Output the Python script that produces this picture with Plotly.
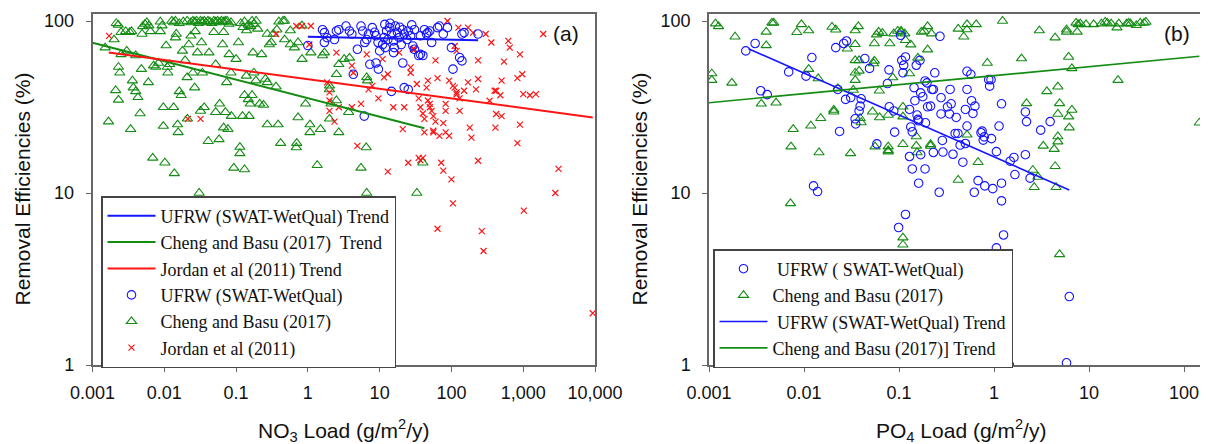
import plotly.graph_objects as go

# ---------------- Panel (a): NO3 ----------------
no3_cb_x = [0.00214, 0.00228, 0.00538, 0.00572, 0.00609, 0.0088, 0.0127, 0.0135, 0.0143, 0.0162,
            0.0184, 0.0208, 0.0235, 0.025, 0.0265, 0.0282, 0.030, 0.0319, 0.0338, 0.036,
            0.0382, 0.0406, 0.0432, 0.046, 0.049, 0.052, 0.0553, 0.0588, 0.0625, 0.0665,
            0.0707, 0.075, 0.080, 0.085, 0.116, 0.131, 0.148, 0.167, 0.177, 0.395,
            0.474, 0.826, 0.19, 0.272, 0.33, 0.37, 0.45, 0.57, 0.125, 0.14,
            0.16, 0.2, 0.0015, 0.00167, 0.002, 0.0021, 0.0023, 0.0023, 0.0024, 0.0025,
            0.0025, 0.0029, 0.003, 0.0033, 0.0034, 0.0035, 0.0036, 0.0037, 0.004, 0.004,
            0.0043, 0.0046, 0.0048, 0.0049, 0.005, 0.006, 0.0064, 0.0069, 0.0071, 0.0076,
            0.0083, 0.0088, 0.0093, 0.0097, 0.0097, 0.0102, 0.0106, 0.011, 0.0112, 0.0119,
            0.0135, 0.0138, 0.0143, 0.0147, 0.0153, 0.0156, 0.0162, 0.0172, 0.0179, 0.0195,
            0.0208, 0.021, 0.022, 0.0235, 0.025, 0.0265, 0.027, 0.029, 0.0306, 0.032,
            0.033, 0.034, 0.036, 0.041, 0.042, 0.049, 0.052, 0.052, 0.059, 0.058,
            0.065, 0.067, 0.071, 0.074, 0.067, 0.077, 0.071, 0.08, 0.085, 0.086,
            0.093, 0.131, 0.1, 0.108, 0.113, 0.113, 0.123, 0.131, 0.148, 0.157,
            0.167, 0.139, 0.152, 0.172, 0.177, 0.189, 0.213, 0.241, 0.256, 0.272,
            0.227, 0.272, 0.29, 0.31, 0.36, 0.385, 0.418, 0.474, 0.57, 0.65,
            0.73, 0.69, 0.7, 0.73, 0.83, 0.93, 1.07, 1.07, 1.1, 1.35,
            1.5, 1.6, 1.7, 2.0, 2.0, 2.0, 2.1, 2.5, 2.7, 2.5,
            2.7, 3.2, 3.8, 3.7, 5.5, 6.5, 6.6, 6.8, 6.6, 33,
            40]
no3_cb_y = [97, 95, 96, 98, 94, 99, 100, 98, 100, 97,
            99, 100, 98, 100, 99, 100, 97, 100, 99, 100,
            98, 100, 99, 97, 100, 99, 100, 98, 100, 99,
            100, 100, 96, 98, 97, 99, 95, 100, 96, 99,
            100, 94, 100, 84, 84, 89, 100, 88, 92, 88,
            93, 90, 70, 26, 78, 39.5, 34.8, 54, 50, 64,
            86, 87, 67, 86, 23.5, 87, 45, 41, 63, 39,
            36, 29, 52.5, 84, 93, 44, 87, 16, 55, 54,
            57, 87, 94, 31.5, 24.5, 15, 72, 54, 50, 56,
            31.5, 13, 80, 84, 25, 22.5, 39, 37, 67, 59,
            47, 27, 73, 82, 50, 41, 87, 65.5, 10, 30,
            75, 50, 31.5, 20, 65.5, 86, 56, 29.5, 33, 20.5,
            73, 86, 29.5, 44, 24, 23.5, 1.0, 64, 50, 28,
            14, 13.7, 60, 75, 18.5, 17, 28, 37, 35, 33,
            37, 48, 28, 65.5, 50, 45, 33, 32.5, 46, 44,
            64, 25, 73, 75, 41.5, 25, 19.5, 78, 73, 70,
            75, 18.4, 19.5, 27.5, 60, 33, 25, 22.5, 65.5, 14.5,
            23.5, 63, 65.5, 42, 40, 27, 33, 49, 56, 34.5,
            22.5, 60, 61, 29.5, 14, 18.4, 47, 45, 10, 10,
            15]

no3_jordan_x = [0.0017, 0.0213, 0.032, 0.36, 0.69, 0.83, 1.05, 1.1, 1.85, 2.0,
                2.0, 2.0, 2.5, 2.35, 2.7, 4.1, 4.3, 4.1, 4.9, 5.5,
                6.6, 7.0, 7.9, 9.6, 11, 11.5, 13, 13, 15.5, 18.7,
                21, 22, 25, 27, 27, 29, 30.5, 33, 35, 37,
                40, 35, 37, 40, 42, 42, 45, 47, 50, 50,
                47, 53, 56, 60, 56, 56, 68, 83, 60, 64,
                64, 72, 77, 77, 83, 83, 88, 93, 93, 100,
                105, 111, 105, 111, 118, 118, 118, 125, 130, 130,
                150, 170, 170, 200, 180, 190, 220, 235, 235, 235,
                265, 280, 300, 360, 340, 400, 420, 480, 410, 420,
                500, 500, 540, 620, 650, 830, 830, 900, 970, 900,
                1020, 1000, 1240, 1500, 1900, 2800, 3100, 9300]
no3_jordan_y = [82, 27, 27, 84, 93.5, 93.5, 73, 93.5, 44, 38.5,
                30, 34.5, 65.5, 26, 31.5, 55, 50, 31.5, 18.8, 33,
                64, 40, 42, 35.5, 60, 47, 49, 13.3, 31.5, 65.5,
                23.5, 31.5, 15, 53.7, 50, 68.5, 68.5, 43, 35.5, 31.5,
                29, 16, 15.5, 16, 27, 22.5, 41, 34.5, 33, 31.5,
                45, 30, 28, 26, 23, 22.5, 21.5, 22.5, 59, 46.5,
                6.2, 15, 13.5, 25.5, 30, 33, 100, 45, 21.5, 12,
                42, 41, 8.7, 71.6, 67, 38.5, 37.5, 91.5, 35.5, 30,
                39.3, 44, 91.5, 85.6, 24, 21, 40, 46, 59, 15.4,
                6, 4.6, 84, 75, 34.4, 39.3, 39.3, 37, 24, 28.8,
                28, 45, 58, 76.6, 70, 46.5, 19.5, 64, 49, 25,
                7.9, 37.6, 37, 37.6, 84, 10, 13.8, 2.0]

no3_ufrw_x = [1.0, 1.6, 1.7, 1.85, 1.7, 2.35, 2.5, 2.7, 3.4, 3.8,
              4.1, 4.9, 4.3, 5.5, 5.8, 6.2, 6.6, 7.0, 6.1, 7.3,
              8.9, 9.6, 7.9, 8.5, 8.9, 10, 11, 11.5, 11.8, 12.5,
              13, 13.8, 14.6, 15.6, 14.6, 15.6, 16.5, 17.7, 18.7, 20,
              21, 22, 21, 22, 25, 24, 25, 27, 29, 30.5,
              30.5, 35, 37, 40, 37, 42, 45, 47, 50, 53,
              64, 68, 77, 88, 100, 105, 130, 140, 140, 150,
              235, 12, 16, 19, 9.5, 14, 28]
no3_ufrw_y = [72, 89, 85.6, 80, 75, 78, 87.5, 89, 93.5, 87.5,
              84, 68.5, 49, 93.5, 87.5, 75, 78, 84, 28, 56,
              57, 52.5, 91.5, 86, 82, 67, 73, 80, 95.6, 87.5,
              78, 91.5, 84, 76.6, 39, 65.5, 93.5, 86, 80, 73,
              89, 84, 57, 41, 40, 78, 87.5, 82, 71.6, 89,
              68.5, 63, 64, 63, 82, 89, 84, 85.6, 87.5, 75,
              91.5, 93.5, 84, 91.5, 70, 52.5, 61.3, 58.6, 84, 85.6,
              84, 70, 70, 92, 75, 97, 95]

# trend line end points (panel a)
no3_ufrw_trend_x = [1.0, 235]
no3_ufrw_trend_y = [81, 77.3]
no3_cb_trend_x = [0.001, 42]
no3_cb_trend_y = [74.8, 23.8]
no3_jordan_trend_x = [0.00168, 9300]
no3_jordan_trend_y = [65.5, 27.5]

# ---------------- Panel (b): PO4 ----------------
po4_ufrw_x = [0.00244, 0.00306, 0.0035, 0.0041, 0.0069, 0.0105, 0.0121, 0.0126, 0.0139, 0.0216,
              0.0237, 0.0227, 0.0262, 0.028, 0.0274, 0.031, 0.0345, 0.035, 0.038, 0.039,
              0.040, 0.0437, 0.049, 0.0585, 0.0785, 0.0755, 0.079, 0.088, 0.09, 0.099,
              0.117, 0.104, 0.107, 0.112, 0.117, 0.11, 0.129, 0.133, 0.138, 0.129,
              0.138, 0.144, 0.147, 0.155, 0.158, 0.161, 0.152, 0.161, 0.169, 0.188,
              0.166, 0.169, 0.178, 0.188, 0.197, 0.19, 0.2, 0.215, 0.222, 0.23,
              0.23, 0.238, 0.265, 0.27, 0.277, 0.277, 0.286, 0.29, 0.324, 0.34,
              0.354, 0.345, 0.37, 0.4, 0.39, 0.417, 0.44, 0.47, 0.5, 0.5,
              0.52, 0.52, 0.52, 0.57, 0.58, 0.6, 0.63, 0.62, 0.68, 0.73,
              0.75, 0.79, 0.77, 0.8, 0.88, 0.9, 0.93, 0.94, 0.97, 1.06,
              1.06, 1.13, 1.2, 1.2, 1.2, 1.26, 1.45, 1.48, 1.66, 1.62,
              2.14, 2.2, 2.14, 2.4, 3.1, 3.9, 5.8, 6.2]
po4_ufrw_y = [67, 74, 39.3, 37.3, 50.6, 47.8, 61.3, 11, 10.2, 70,
              22.8, 40, 74, 76.5, 35, 35.9, 27, 25.2, 30, 32,
              35.3, 60.5, 53, 19.3, 52, 43.3, 31.7, 30, 22.6, 6.3,
              7.5, 82.6, 59, 55.3, 61.8, 50, 30.6, 24.2, 22.7, 16.3,
              13.8, 41, 34.4, 28.4, 26.8, 26.3, 55.3, 11.4, 16.7, 13.8,
              59, 38.2, 36.3, 44.8, 43.7, 25.6, 31.7, 32, 40, 40,
              17.2, 50, 10.1, 81.5, 35.8, 28.8, 20.2, 17.3, 31.7, 28.8,
              33, 40, 16.8, 27.5, 22.2, 22.2, 19, 15.1, 19.4, 30.6,
              40, 24.5, 51, 49, 34.4, 29, 32, 10.1, 11.8, 22.4,
              22.9, 21.2, 20.3, 11, 45.6, 41.8, 45.6, 20.7, 10.6, 17.4,
              4.8, 24.5, 11.4, 9.0, 33, 5.7, 1.0, 15.3, 12.8, 16.1,
              29.6, 26, 16.7, 12.2, 23.2, 26, 1.03, 2.5]

po4_cb_x = [0.00107, 0.00107, 0.00117, 0.00126, 0.00174, 0.00188, 0.00355, 0.00508, 0.004, 0.004,
            0.0046, 0.0048, 0.0072, 0.0073, 0.0077, 0.0084, 0.0094, 0.0112, 0.0112, 0.0118,
            0.0141, 0.0144, 0.015, 0.0197, 0.0216, 0.0206, 0.0206, 0.0227, 0.0286, 0.0346,
            0.0309, 0.033, 0.0346, 0.0346, 0.038, 0.0373, 0.0346, 0.0346, 0.038, 0.039,
            0.04, 0.054, 0.055, 0.0526, 0.056, 0.055, 0.058, 0.061, 0.067, 0.0625,
            0.062, 0.077, 0.077, 0.077, 0.077, 0.08, 0.086, 0.088, 0.097, 0.105,
            0.105, 0.115, 0.117, 0.11, 0.11, 0.11, 0.11, 0.11, 0.129, 0.133,
            0.152, 0.152, 0.155, 0.158, 0.172, 0.184, 0.2, 0.22, 0.2, 0.215,
            0.215, 0.42, 0.48, 0.52, 0.52, 0.65, 0.42, 0.52, 0.68, 0.85,
            1.23, 1.95, 2.2, 2.56, 2.65, 2.9, 3.0, 3.3, 3.6, 4.3,
            4.4, 4.4, 4.5, 4.7, 4.7, 4.7, 4.7, 4.9, 4.9, 5.8,
            5.8, 6.1, 6.1, 6.2, 6.6, 6.6, 7.3, 7.7, 8.1, 7.5,
            9.3, 11.2, 13.5, 14.8, 15.6, 17.1, 19.7, 20.6, 24.9, 26.1,
            27.3, 31.5, 34.6, 38, 39.8, 20.2, 145]
po4_cb_y = [49.5, 45.3, 96.5, 93, 43.7, 81, 33, 33.5, 86.4, 72.2,
            97.5, 97.5, 8.7, 18.6, 23.5, 86, 95.6, 88, 52.5, 24.6,
            46.3, 17.2, 27.2, 92.3, 89, 30.4, 29.7, 40.5, 69, 73.2,
            17, 39.7, 45.3, 59, 59, 93, 88, 50, 51.3, 27.2,
            25.7, 56.6, 58.6, 29.7, 18.6, 74, 83.3, 86.4, 85, 27.5,
            39.3, 18.6, 17.4, 17.7, 28.4, 74, 46.9, 84.5, 87.5, 86.4,
            87.5, 84.5, 77.3, 31.7, 27.8, 19.2, 5.5, 5.0, 49.5, 72.9,
            21.3, 18.8, 17.2, 61, 86.4, 87.5, 93, 84.5, 68.2, 19.2,
            18.8, 90, 81, 95.6, 89.2, 95.6, 11.9, 21.8, 15.1, 57,
            100, 60.5, 33.2, 13.6, 10.8, 12.4, 88, 18.8, 39, 18,
            80, 14.3, 10.8, 41.5, 28.8, 21.3, 19.9, 33.2, 4.4, 89,
            86.4, 61.8, 27.8, 24, 53, 30.4, 97.5, 95.6, 96.5, 86.4,
            95.6, 95.6, 96.5, 98.7, 97.4, 96.5, 91.5, 96.5, 96.5, 97.4,
            96.5, 94.4, 97.4, 97.4, 98.7, 45.3, 25.6]

# trend line end points (panel b)
po4_ufrw_trend_x = [0.0026, 6.2]
po4_ufrw_trend_y = [69, 10.4]
po4_cb_trend_x = [0.001, 145]
po4_cb_trend_y = [33.5, 62.4]

# tick labels
no3_tickvals = [0.001, 0.01, 0.1, 1, 10, 100, 1000, 10000]
no3_ticktext = ["0.001", "0.01", "0.1", "1", "10", "100", "1,000", "10,000"]
po4_tickvals = [0.001, 0.01, 0.1, 1, 10, 100]
po4_ticktext = ["0.001", "0.01", "0.1", "1", "10", "100"]
y_tickvals = [1, 10, 100]
y_ticktext = ["1", "10", "100"]

BLUE = "#1414ff"
GREEN = "#148c14"
RED = "#ff1414"

# the page body has an 8px margin: figure is 1200x436, offset by 8px
W, H = 1200, 436
OFF = 8


def px(xr):
    return (xr - OFF) / W


def py(yr):
    return 1 - (yr - OFF) / H


fig = go.Figure()

circle = dict(symbol="circle-open", size=8.5, color=BLUE, line=dict(width=1.1, color=BLUE))
tri = dict(symbol="triangle-up-open", size=9, color=GREEN, line=dict(width=1.1, color=GREEN))
cross = dict(symbol="x-thin-open", size=6, color=RED, line=dict(width=1.2, color=RED))

# Panel (a) markers
fig.add_trace(go.Scatter(x=no3_cb_x, y=no3_cb_y, mode="markers", marker=tri,
                         name="Cheng and Basu (2017)", legend="legend", legendrank=5,
                         xaxis="x", yaxis="y"))
fig.add_trace(go.Scatter(x=no3_jordan_x, y=no3_jordan_y, mode="markers", marker=cross,
                         name="Jordan et al (2011)", legend="legend", legendrank=6,
                         xaxis="x", yaxis="y"))
fig.add_trace(go.Scatter(x=no3_ufrw_x, y=no3_ufrw_y, mode="markers", marker=circle,
                         name="UFRW (SWAT-WetQual)", legend="legend", legendrank=4,
                         xaxis="x", yaxis="y"))
# Panel (a) trends
fig.add_trace(go.Scatter(x=no3_ufrw_trend_x, y=no3_ufrw_trend_y, mode="lines",
                         line=dict(color=BLUE, width=2),
                         name="UFRW (SWAT-WetQual) Trend", legend="legend", legendrank=1,
                         xaxis="x", yaxis="y"))
fig.add_trace(go.Scatter(x=no3_cb_trend_x, y=no3_cb_trend_y, mode="lines",
                         line=dict(color=GREEN, width=2),
                         name="Cheng and Basu (2017)  Trend", legend="legend", legendrank=2,
                         xaxis="x", yaxis="y"))
fig.add_trace(go.Scatter(x=no3_jordan_trend_x, y=no3_jordan_trend_y, mode="lines",
                         line=dict(color=RED, width=2),
                         name="Jordan et al (2011) Trend", legend="legend", legendrank=3,
                         xaxis="x", yaxis="y"))

# Panel (b) markers
fig.add_trace(go.Scatter(x=po4_cb_x, y=po4_cb_y, mode="markers", marker=tri,
                         name="Cheng and Basu (2017)", legend="legend2", legendrank=2,
                         xaxis="x2", yaxis="y2"))
fig.add_trace(go.Scatter(x=po4_ufrw_x, y=po4_ufrw_y, mode="markers", marker=circle,
                         name=" UFRW ( SWAT-WetQual)", legend="legend2", legendrank=1,
                         xaxis="x2", yaxis="y2"))
fig.add_trace(go.Scatter(x=po4_ufrw_trend_x, y=po4_ufrw_trend_y, mode="lines",
                         line=dict(color=BLUE, width=1.6),
                         name=" UFRW (SWAT-WetQual) Trend", legend="legend2", legendrank=3,
                         xaxis="x2", yaxis="y2"))
fig.add_trace(go.Scatter(x=po4_cb_trend_x, y=po4_cb_trend_y, mode="lines",
                         line=dict(color=GREEN, width=1.6),
                         name="Cheng and Basu (2017)] Trend", legend="legend2", legendrank=4,
                         xaxis="x2", yaxis="y2"))

tickfont = dict(family="Liberation Sans, Arial, sans-serif", size=18, color="#111")
ax = dict(type="log", showgrid=False, zeroline=False, showline=True, linecolor="#666",
          linewidth=1.5, ticks="outside", ticklen=5, tickcolor="#666", tickwidth=1.2,
          tickfont=tickfont, automargin=False)

ydom = [py(365), py(14)]
yrange = [0, 2.0407]

legfont = dict(family="Liberation Serif, Times New Roman, serif", size=18, color="#111")
titlefont = dict(family="Liberation Sans, Arial, sans-serif", size=21, color="#111")

fig.update_layout(
    width=W, height=H,
    margin=dict(l=0, r=0, t=0, b=0),
    paper_bgcolor="white", plot_bgcolor="white",
    showlegend=True,
    xaxis=dict(ax, domain=[px(92.5), px(595)], range=[-3, 4], anchor="y",
               tickvals=no3_tickvals, ticktext=no3_ticktext, mirror=True,
               ticklabelstandoff=6),
    yaxis=dict(ax, domain=ydom, range=yrange, anchor="x",
               tickvals=y_tickvals, ticktext=y_ticktext, mirror=True,
               ticklabelstandoff=8),
    xaxis2=dict(ax, domain=[px(709), 1.0], range=[-3, 2.2526], anchor="y2",
                tickvals=po4_tickvals, ticktext=po4_ticktext, mirror=True,
                ticklabelstandoff=6),
    yaxis2=dict(ax, domain=ydom, range=yrange, anchor="x2",
                tickvals=y_tickvals, ticktext=y_ticktext, mirror=False,
                ticklabelstandoff=8),
    legend=dict(x=px(101), y=py(196), xanchor="left", yanchor="top",
                bgcolor="white", bordercolor="#444", borderwidth=1.5,
                font=legfont, itemwidth=48, tracegroupgap=0),
    legend2=dict(x=px(713), y=py(249), xanchor="left", yanchor="top",
                 bgcolor="white", bordercolor="#444", borderwidth=1.5,
                 font=legfont, itemwidth=48, tracegroupgap=0),
    annotations=[
        dict(text="NO<sub>3</sub> Load (g/m<sup>2</sup>/y)", x=px((92.5 + 595) / 2), y=py(430),
             xref="paper", yref="paper", xanchor="center", yanchor="middle",
             showarrow=False, font=titlefont),
        dict(text="PO<sub>4</sub> Load (g/m<sup>2</sup>/y)", x=px(961), y=py(430),
             xref="paper", yref="paper", xanchor="center", yanchor="middle",
             showarrow=False, font=titlefont),
        dict(text="Removal Efficiencies (%)", x=px(22), y=py(189.5), textangle=-90,
             xref="paper", yref="paper", xanchor="center", yanchor="middle",
             showarrow=False, font=titlefont),
        dict(text="Removal Efficiencies (%)", x=px(639), y=py(189.5), textangle=-90,
             xref="paper", yref="paper", xanchor="center", yanchor="middle",
             showarrow=False, font=titlefont),
        dict(text="(a)", x=px(566), y=py(33), xref="paper", yref="paper",
             xanchor="center", yanchor="middle", showarrow=False,
             font=dict(family="Liberation Sans, Arial, sans-serif", size=21, color="#111")),
        dict(text="(b)", x=px(1177), y=py(33), xref="paper", yref="paper",
             xanchor="center", yanchor="middle", showarrow=False,
             font=dict(family="Liberation Sans, Arial, sans-serif", size=21, color="#111")),
    ],
)

fig.write_html("out.html")
